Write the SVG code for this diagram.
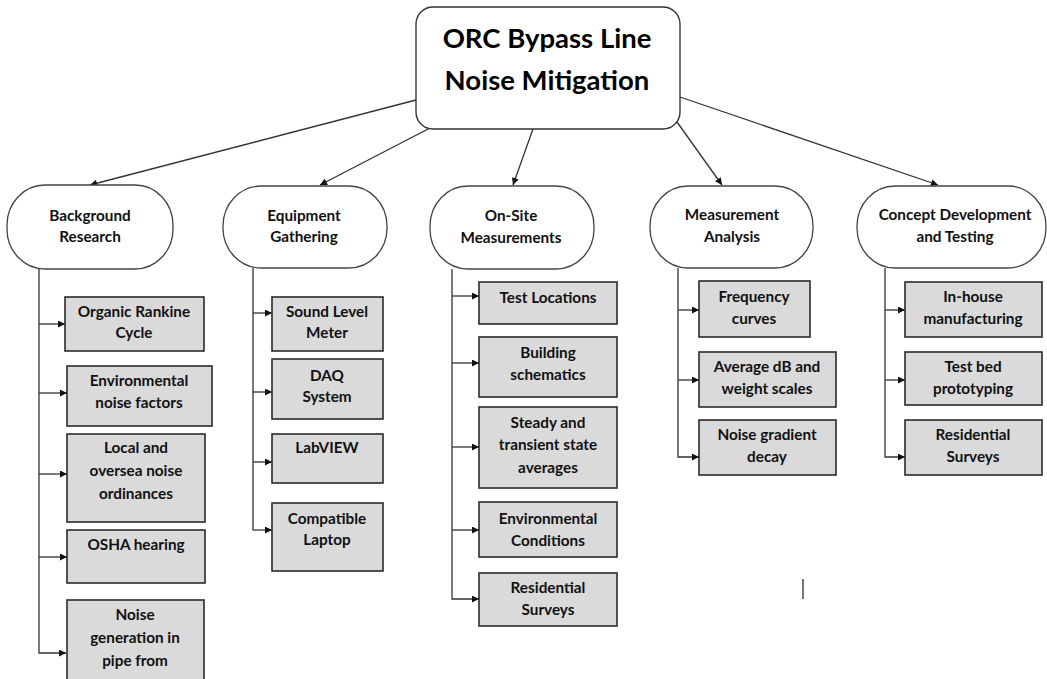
<svg xmlns="http://www.w3.org/2000/svg" width="1047" height="679" viewBox="0 0 1047 679">
<style>
.root{fill:#fff;stroke:#333;stroke-width:1.4}
.cat{fill:#fff;stroke:#444;stroke-width:1.3}
.box{fill:#dadada;stroke:#2b2b2b;stroke-width:1.6}
.t{font-family:Lato,"Liberation Sans",sans-serif;font-weight:bold;font-size:15.3px;fill:#111;text-anchor:middle}
.tt{font-family:Lato,"Liberation Sans",sans-serif;font-weight:bold;font-size:27.5px;fill:#000;text-anchor:middle}
.c{fill:none;stroke:#333;stroke-width:1.3}
.g{fill:none;stroke:#555;stroke-width:1.6}
</style>
<defs>
<marker id="ah" viewBox="0 0 10 10" refX="10" refY="5" markerWidth="8" markerHeight="7" markerUnits="userSpaceOnUse" orient="auto">
<path d="M0,0 L10,5 L0,10 z" fill="#111"/>
</marker>
</defs>
<rect width="1047" height="679" fill="#fff"/>

<g id="connectors">
<line class="c" x1="416" y1="100" x2="90" y2="185" marker-end="url(#ah)"/>
<line class="c" x1="430" y1="128" x2="320" y2="185" marker-end="url(#ah)"/>
<line class="c" x1="533" y1="129" x2="513" y2="185" marker-end="url(#ah)"/>
<line class="c" x1="677" y1="122" x2="722" y2="185" marker-end="url(#ah)"/>
<line class="c" x1="680" y1="97" x2="938" y2="185" marker-end="url(#ah)"/>

<polyline class="c" points="39,269 39,653 66,653" marker-end="url(#ah)"/>
<line class="c" x1="39" y1="324" x2="65" y2="324" marker-end="url(#ah)"/>
<line class="c" x1="39" y1="393" x2="67" y2="393" marker-end="url(#ah)"/>
<line class="c" x1="39" y1="474" x2="67" y2="474" marker-end="url(#ah)"/>
<line class="c" x1="39" y1="557" x2="67" y2="557" marker-end="url(#ah)"/>

<polyline class="g" points="253,268 253,530 272,530" marker-end="url(#ah)"/>
<line class="c" x1="253" y1="313" x2="272" y2="313" marker-end="url(#ah)"/>
<line class="c" x1="253" y1="392" x2="272" y2="392" marker-end="url(#ah)"/>
<line class="c" x1="253" y1="462" x2="272" y2="462" marker-end="url(#ah)"/>

<polyline class="c" points="452,269 452,599 479,599" marker-end="url(#ah)"/>
<line class="c" x1="452" y1="296" x2="479" y2="296" marker-end="url(#ah)"/>
<line class="c" x1="452" y1="363" x2="479" y2="363" marker-end="url(#ah)"/>
<line class="c" x1="452" y1="447" x2="479" y2="447" marker-end="url(#ah)"/>
<line class="c" x1="452" y1="530" x2="479" y2="530" marker-end="url(#ah)"/>

<polyline class="c" points="678,268 678,457 699,457" marker-end="url(#ah)"/>
<line class="c" x1="678" y1="310" x2="699" y2="310" marker-end="url(#ah)"/>
<line class="c" x1="678" y1="380" x2="699" y2="380" marker-end="url(#ah)"/>

<polyline class="c" points="885,268 885,457 905,457" marker-end="url(#ah)"/>
<line class="c" x1="885" y1="310" x2="905" y2="310" marker-end="url(#ah)"/>
<line class="c" x1="885" y1="380" x2="905" y2="380" marker-end="url(#ah)"/>
</g>

<g id="root">
<rect class="root" x="416" y="7" width="264" height="122" rx="17"/>
<text class="tt" x="547" y="48">ORC Bypass Line</text>
<text class="tt" x="547" y="90">Noise Mitigation</text>
</g>

<g id="background-research">
<rect class="cat" x="7" y="185" width="166" height="84" rx="38" ry="40"/>
<text class="t" x="90" y="221">Background</text>
<text class="t" x="90" y="242">Research</text>
</g>
<g id="equipment-gathering">
<rect class="cat" x="223" y="186" width="164" height="82" rx="38" ry="40"/>
<text class="t" x="304" y="221">Equipment</text>
<text class="t" x="304" y="242">Gathering</text>
</g>
<g id="on-site-measurements">
<rect class="cat" x="430" y="186" width="164" height="83" rx="38" ry="40"/>
<text class="t" x="511" y="221">On-Site</text>
<text class="t" x="511" y="243">Measurements</text>
</g>
<g id="measurement-analysis">
<rect class="cat" x="650" y="186" width="163" height="82" rx="38" ry="40"/>
<text class="t" x="732" y="220">Measurement</text>
<text class="t" x="732" y="242">Analysis</text>
</g>
<g id="concept-development">
<rect class="cat" x="857" y="186" width="189" height="82" rx="38" ry="40"/>
<text class="t" x="955" y="220">Concept Development</text>
<text class="t" x="955" y="242">and Testing</text>
</g>

<g id="organic-rankine-cycle">
<rect class="box" x="65" y="297" width="139" height="54"/>
<text class="t" x="134" y="317">Organic Rankine</text>
<text class="t" x="134" y="338">Cycle</text>
</g>
<g id="environmental-noise-factors">
<rect class="box" x="67" y="366" width="145" height="60"/>
<text class="t" x="139" y="386">Environmental</text>
<text class="t" x="139" y="408">noise factors</text>
</g>
<g id="local-oversea">
<rect class="box" x="67" y="434" width="138" height="88"/>
<text class="t" x="136" y="453">Local and</text>
<text class="t" x="136" y="476">oversea noise</text>
<text class="t" x="136" y="499">ordinances</text>
</g>
<g id="osha-hearing">
<rect class="box" x="67" y="530" width="138" height="53"/>
<text class="t" x="136" y="550">OSHA hearing</text>
</g>
<g id="noise-generation">
<rect class="box" x="67" y="600" width="137" height="90"/>
<text class="t" x="135" y="620">Noise</text>
<text class="t" x="135" y="643">generation in</text>
<text class="t" x="135" y="666">pipe from</text>
</g>

<g id="sound-level-meter">
<rect class="box" x="272" y="297" width="111" height="54"/>
<text class="t" x="327" y="317">Sound Level</text>
<text class="t" x="327" y="338">Meter</text>
</g>
<g id="daq-system">
<rect class="box" x="272" y="359" width="111" height="60"/>
<text class="t" x="327" y="381">DAQ</text>
<text class="t" x="327" y="402">System</text>
</g>
<g id="labview">
<rect class="box" x="272" y="434" width="111" height="49"/>
<text class="t" x="327" y="453">LabVIEW</text>
</g>
<g id="compatible-laptop">
<rect class="box" x="272" y="503" width="111" height="68"/>
<text class="t" x="327" y="524">Compatible</text>
<text class="t" x="327" y="545">Laptop</text>
</g>

<g id="test-locations">
<rect class="box" x="479" y="282" width="138" height="42"/>
<text class="t" x="548" y="303">Test Locations</text>
</g>
<g id="building-schematics">
<rect class="box" x="479" y="337" width="138" height="60"/>
<text class="t" x="548" y="358">Building</text>
<text class="t" x="548" y="380">schematics</text>
</g>
<g id="steady-transient">
<rect class="box" x="479" y="407" width="138" height="81"/>
<text class="t" x="548" y="428">Steady and</text>
<text class="t" x="548" y="450">transient state</text>
<text class="t" x="548" y="473">averages</text>
</g>
<g id="environmental-conditions">
<rect class="box" x="479" y="502" width="138" height="55"/>
<text class="t" x="548" y="524">Environmental</text>
<text class="t" x="548" y="546">Conditions</text>
</g>
<g id="residential-surveys-1">
<rect class="box" x="479" y="573" width="138" height="53"/>
<text class="t" x="548" y="593">Residential</text>
<text class="t" x="548" y="615">Surveys</text>
</g>

<g id="frequency-curves">
<rect class="box" x="699" y="281" width="111" height="56"/>
<text class="t" x="754" y="302">Frequency</text>
<text class="t" x="754" y="324">curves</text>
</g>
<g id="average-db">
<rect class="box" x="699" y="352" width="137" height="55"/>
<text class="t" x="767" y="372">Average dB and</text>
<text class="t" x="767" y="394">weight scales</text>
</g>
<g id="noise-gradient">
<rect class="box" x="699" y="420" width="137" height="55"/>
<text class="t" x="767" y="440">Noise gradient</text>
<text class="t" x="767" y="462">decay</text>
</g>

<g id="in-house">
<rect class="box" x="905" y="282" width="137" height="55"/>
<text class="t" x="973" y="302">In-house</text>
<text class="t" x="973" y="324">manufacturing</text>
</g>
<g id="test-bed">
<rect class="box" x="905" y="352" width="137" height="53"/>
<text class="t" x="973" y="372">Test bed</text>
<text class="t" x="973" y="394">prototyping</text>
</g>
<g id="residential-surveys-2">
<rect class="box" x="905" y="420" width="137" height="55"/>
<text class="t" x="973" y="440">Residential</text>
<text class="t" x="973" y="462">Surveys</text>
</g>

<line x1="803" y1="579" x2="803" y2="599" stroke="#555" stroke-width="1.6"/>
</svg>
